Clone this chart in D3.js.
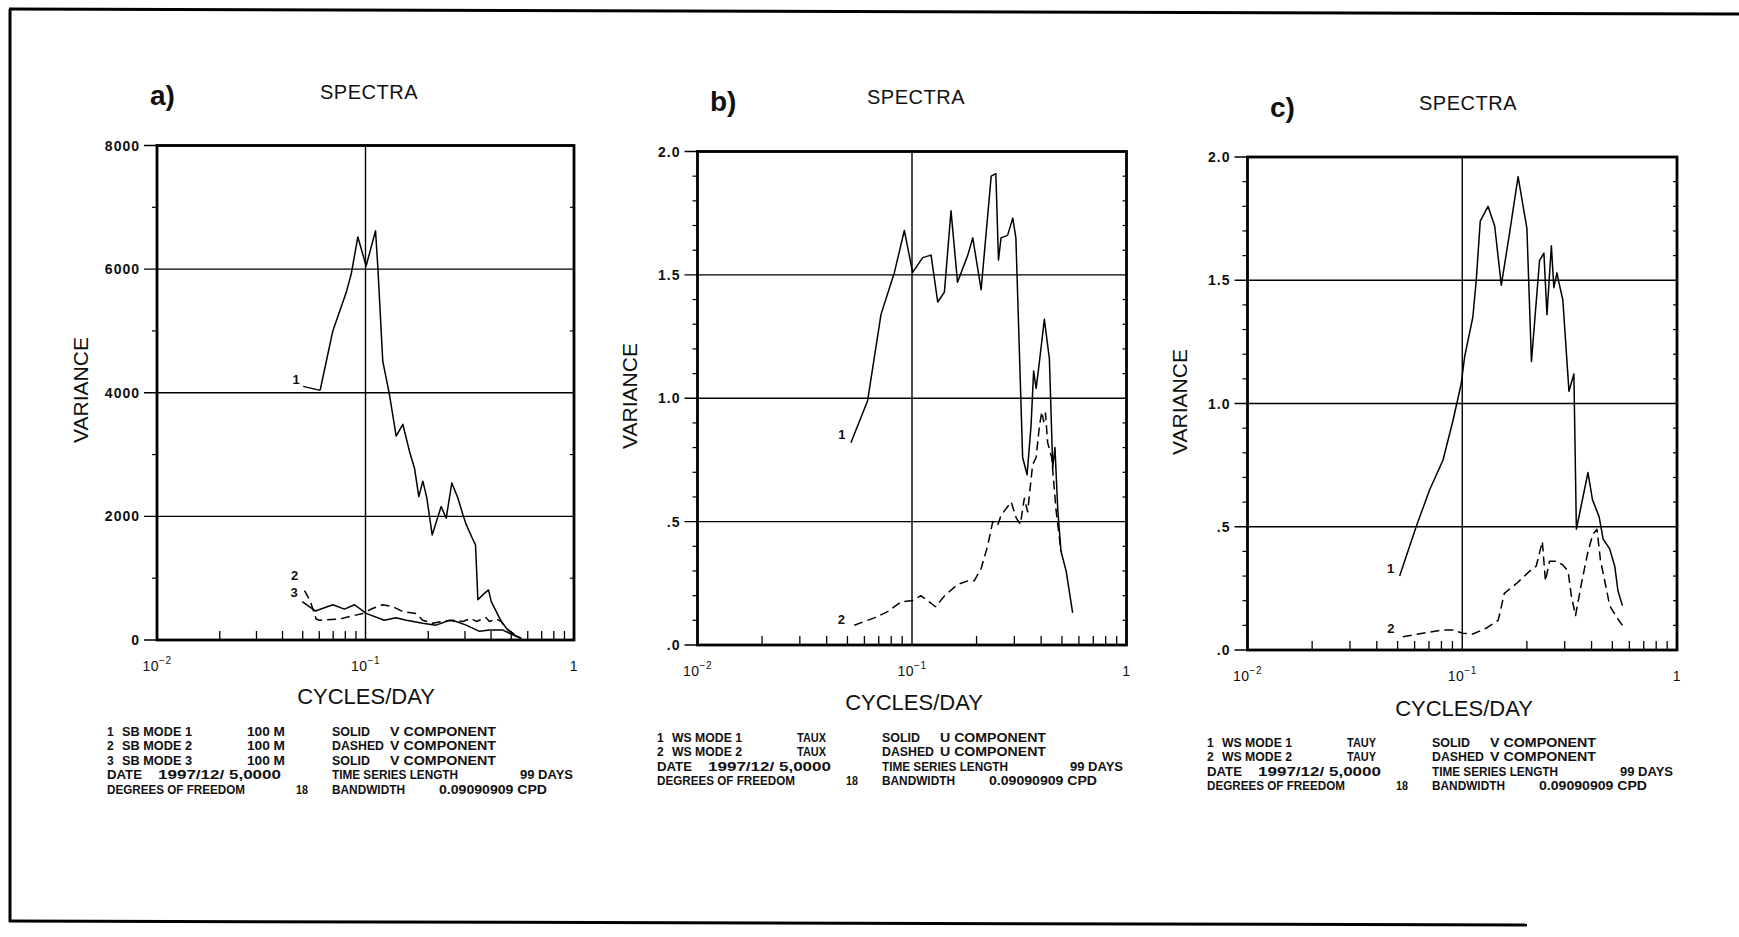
<!DOCTYPE html>
<html><head><meta charset="utf-8">
<script src="https://cdn.jsdelivr.net/npm/d3@7"></script>
<style>
body{margin:0;background:#fff}
text{fill:#111}
</style>
</head><body>
<svg id="chart" width="1739" height="937"></svg>
<script>
// ---------------- DATA ----------------
// frequency (cycles/day), variance
const aMode1 = [[0.0606,4040],[0.0697,5000],[0.0808,5620],[0.0854,5920],[0.0919,6520],[0.1007,6050],[0.1117,6620],[0.1146,6030],[0.121,4510],[0.1303,3970],[0.1403,3300],[0.151,3490],[0.1626,3050],[0.1718,2780],[0.1802,2320],[0.1884,2570],[0.1968,2300],[0.2088,1700],[0.2306,2160],[0.2438,1970],[0.2594,2540],[0.2772,2300],[0.2931,2030],[0.304,1870],[0.325,1650],[0.337,1540],[0.346,650],[0.365,730],[0.389,810],[0.401,620],[0.424,460],[0.448,300],[0.482,160],[0.519,80],[0.558,25]];
const aMode2 = [[0.051,800],[0.0543,630],[0.058,340],[0.0601,320],[0.075,340],[0.097,430],[0.108,510],[0.121,570],[0.135,540],[0.151,460],[0.175,430],[0.188,320],[0.21,270],[0.235,300],[0.262,320],[0.293,300],[0.321,350],[0.34,300],[0.379,360],[0.393,300],[0.424,340],[0.448,300],[0.473,190],[0.509,110],[0.558,25]];
const aMode3 = [[0.0497,620],[0.0575,470],[0.0697,570],[0.0793,500],[0.0886,570],[0.1007,430],[0.123,320],[0.14,360],[0.157,320],[0.188,270],[0.218,240],[0.253,320],[0.272,300],[0.304,240],[0.352,140],[0.393,160],[0.456,160],[0.491,110],[0.558,25]];

const bMode1 = [[0.0519,0.82],[0.0621,0.99],[0.0717,1.34],[0.0828,1.51],[0.0921,1.68],[0.1007,1.51],[0.1122,1.57],[0.1227,1.58],[0.1318,1.39],[0.1416,1.43],[0.152,1.76],[0.163,1.47],[0.182,1.58],[0.192,1.65],[0.21,1.44],[0.234,1.90],[0.246,1.91],[0.253,1.56],[0.26,1.65],[0.279,1.66],[0.295,1.73],[0.305,1.65],[0.328,0.76],[0.344,0.69],[0.359,0.89],[0.369,1.11],[0.379,1.04],[0.388,1.11],[0.414,1.32],[0.437,1.16],[0.453,0.72],[0.464,0.80],[0.478,0.55],[0.495,0.38],[0.523,0.30],[0.561,0.13]];
const bMode2 = [[0.0538,0.08],[0.0667,0.11],[0.077,0.135],[0.0889,0.175],[0.1007,0.18],[0.11,0.20],[0.118,0.18],[0.129,0.155],[0.142,0.20],[0.163,0.245],[0.182,0.26],[0.195,0.26],[0.21,0.31],[0.225,0.40],[0.238,0.50],[0.251,0.485],[0.26,0.525],[0.29,0.58],[0.306,0.515],[0.32,0.49],[0.334,0.595],[0.346,0.54],[0.365,0.73],[0.379,0.76],[0.393,0.89],[0.403,0.945],[0.411,0.905],[0.419,0.94],[0.429,0.82],[0.448,0.76],[0.469,0.55],[0.495,0.38]];

const cMode1 = [[0.0511,0.30],[0.061,0.50],[0.0705,0.65],[0.0813,0.77],[0.0905,0.93],[0.0989,1.08],[0.1026,1.19],[0.112,1.35],[0.1162,1.50],[0.1213,1.74],[0.1318,1.80],[0.1416,1.72],[0.152,1.48],[0.166,1.69],[0.182,1.92],[0.200,1.71],[0.210,1.17],[0.229,1.58],[0.240,1.61],[0.248,1.36],[0.260,1.64],[0.267,1.47],[0.276,1.53],[0.282,1.49],[0.294,1.42],[0.314,1.05],[0.331,1.12],[0.340,0.49],[0.355,0.57],[0.385,0.72],[0.404,0.61],[0.434,0.54],[0.453,0.45],[0.486,0.41],[0.513,0.34],[0.531,0.24],[0.557,0.18]];
const cMode2 = [[0.0529,0.054],[0.0655,0.068],[0.0813,0.081],[0.0905,0.081],[0.1007,0.068],[0.112,0.065],[0.129,0.088],[0.147,0.12],[0.157,0.23],[0.179,0.27],[0.206,0.32],[0.221,0.34],[0.236,0.44],[0.244,0.28],[0.255,0.36],[0.274,0.36],[0.294,0.345],[0.311,0.32],[0.322,0.22],[0.337,0.14],[0.359,0.27],[0.385,0.40],[0.406,0.47],[0.424,0.49],[0.44,0.365],[0.461,0.28],[0.486,0.18],[0.522,0.135],[0.557,0.10]];

// tick values / labels
const aYTicks = [0, 2000, 4000, 6000, 8000];
const aYTickLabels = ["0", "2000", "4000", "6000", "8000"];
const aYMinor = [1000, 3000, 5000, 7000];
const bcYTicks = [0, 0.5, 1.0, 1.5, 2.0];
const bcYTickLabels = [".0", ".5", "1.0", "1.5", "2.0"];
const bcYMinor = [0.1,0.2,0.3,0.4,0.6,0.7,0.8,0.9,1.1,1.2,1.3,1.4,1.6,1.7,1.8,1.9];
const xMajorTicks = [0.01, 0.1, 1];
const xMajorBase = ["10", "10", "1"];
const xMajorExp = ["\u22122", "\u22121", ""];
const xMinorTicks = [0.02,0.03,0.04,0.05,0.06,0.07,0.08,0.09,0.2,0.3,0.4,0.5,0.6,0.7,0.8,0.9];

// texts
const panelLetters = ["a)", "b)", "c)"];
const panelTitle = "SPECTRA";
const xTitle = "CYCLES/DAY";
const yTitle = "VARIANCE";

const aLegendModes = [["1","SB MODE 1","100 M","SOLID","V COMPONENT"],["2","SB MODE 2","100 M","DASHED","V COMPONENT"],["3","SB MODE 3","100 M","SOLID","V COMPONENT"]];
const bLegendModes = [["1","WS MODE 1","TAUX","SOLID","U COMPONENT"],["2","WS MODE 2","TAUX","DASHED","U COMPONENT"]];
const cLegendModes = [["1","WS MODE 1","TAUY","SOLID","V COMPONENT"],["2","WS MODE 2","TAUY","DASHED","V COMPONENT"]];
const legendDateRow = ["DATE","1997/12/ 5,0000","TIME SERIES LENGTH","99 DAYS"];
const legendDofRow = ["DEGREES OF FREEDOM","18","BANDWIDTH","0.09090909 CPD"];

// ---------------- LAYOUT ----------------
const svg = d3.select("#chart");
const FONT = "'Liberation Sans', Arial, Helvetica, sans-serif";

// rendered widths of the plotter-font legend strings (layout only)
const legendWidths = {"SB MODE 1":70,"SB MODE 2":70,"SB MODE 3":70,"WS MODE 1":70,"WS MODE 2":70,
  "100 M":38,"TAUX":29,"TAUY":29,"SOLID":38,"DASHED":52,"V COMPONENT":106,"U COMPONENT":106,
  "DATE":35,"1997/12/ 5,0000":123,"TIME SERIES LENGTH":126,"99 DAYS":53,
  "DEGREES OF FREEDOM":138,"18":12,"BANDWIDTH":73,"0.09090909 CPD":108};

// page frame (scanned page border)
svg.append("line").attr("x1",10).attr("y1",9).attr("x2",10).attr("y2",922).attr("stroke","#000").attr("stroke-width",3);
svg.append("line").attr("x1",9).attr("y1",9).attr("x2",1739).attr("y2",14).attr("stroke","#000").attr("stroke-width",3);
svg.append("line").attr("x1",9).attr("y1",921).attr("x2",1527).attr("y2",925).attr("stroke","#000").attr("stroke-width",3);

const panels = [
  {letter:panelLetters[0], x0:157, x1:574, yB:640, yT:145.5, yMax:8000,
   yTicks:aYTicks, yLabels:aYTickLabels, yMinor:aYMinor,
   letterPos:[150,105], titlePos:[369,99], xTitlePos:[366,704], yTitlePos:[80,390],
   series:[{d:aMode1,dash:null,lab:"1",off:[-24,-11],leader:true},
           {d:aMode2,dash:"9,5",lab:"2",off:[-10,-15]},
           {d:aMode3,dash:null,lab:"3",off:[-8,-9]}],
   legend:{x:107, y:736, modes:aLegendModes}},
  {letter:panelLetters[1], x0:697.5, x1:1126.5, yB:645, yT:151.5, yMax:2,
   yTicks:bcYTicks, yLabels:bcYTickLabels, yMinor:bcYMinor,
   letterPos:[710,111], titlePos:[916,104], xTitlePos:[914,710], yTitlePos:[629,396],
   series:[{d:bMode1,dash:null,lab:"1",off:[-9,-8]},
           {d:bMode2,dash:"9,5",lab:"2",off:[-13,-6]}],
   legend:{x:657, y:742, modes:bLegendModes}},
  {letter:panelLetters[2], x0:1247.5, x1:1677, yB:650, yT:157, yMax:2,
   yTicks:bcYTicks, yLabels:bcYTickLabels, yMinor:bcYMinor,
   letterPos:[1270,117], titlePos:[1468,110], xTitlePos:[1464,716], yTitlePos:[1179,402],
   series:[{d:cMode1,dash:null,lab:"1",off:[-9,-8]},
           {d:cMode2,dash:"9,5",lab:"2",off:[-12,-8]}],
   legend:{x:1207, y:747, modes:cLegendModes}}
];

function legendText(sel, x, y, t) {
  const el = sel.append("text").attr("x", x).attr("y", y).text(t);
  if (legendWidths[t]) el.attr("textLength", legendWidths[t]).attr("lengthAdjust", "spacingAndGlyphs");
  return el;
}

panels.forEach(p => {
  const g = svg.append("g");
  const x = d3.scaleLog().domain([0.01, 1]).range([p.x0, p.x1]);
  const y = d3.scaleLinear().domain([0, p.yMax]).range([p.yB, p.yT]);

  // horizontal gridlines + outward major ticks
  g.selectAll(".hg").data(p.yTicks).join("line")
    .attr("x1", p.x0 - 13).attr("x2", p.x1)
    .attr("y1", d => y(d)).attr("y2", d => y(d))
    .attr("stroke", "#000").attr("stroke-width", 1.3);
  // minor y ticks
  g.selectAll(".ym").data(p.yMinor).join("line")
    .attr("x1", p.x0 - 5).attr("x2", p.x0)
    .attr("y1", d => y(d)).attr("y2", d => y(d))
    .attr("stroke", "#000").attr("stroke-width", 1.2);
  g.selectAll(".ymr").data(p.yMinor).join("line")
    .attr("x1", p.x1 - 4).attr("x2", p.x1)
    .attr("y1", d => y(d)).attr("y2", d => y(d))
    .attr("stroke", "#000").attr("stroke-width", 1.2);
  // vertical gridline at 10^-1
  g.append("line").attr("x1", x(0.1)).attr("x2", x(0.1))
    .attr("y1", p.yT).attr("y2", p.yB).attr("stroke", "#000").attr("stroke-width", 1.4);
  // minor x ticks (inward)
  g.selectAll(".xm").data(xMinorTicks).join("line")
    .attr("x1", d => x(d)).attr("x2", d => x(d))
    .attr("y1", p.yB).attr("y2", p.yB - 9)
    .attr("stroke", "#000").attr("stroke-width", 1.3);
  // frame
  g.append("rect").attr("x", p.x0).attr("y", p.yT)
    .attr("width", p.x1 - p.x0).attr("height", p.yB - p.yT)
    .attr("fill", "none").attr("stroke", "#000").attr("stroke-width", 2.8);

  // y tick labels
  g.selectAll(".yl").data(p.yTicks).join("text")
    .attr("x", p.x0 - 17).attr("y", d => y(d)).attr("dy", "0.36em")
    .attr("text-anchor", "end")
    .attr("font-family", FONT).attr("font-weight", "bold").attr("font-size", 14)
    .attr("letter-spacing", 1)
    .text((d, i) => p.yLabels[i]);

  // x tick labels
  xMajorTicks.forEach((t, i) => {
    const tx = g.append("text").attr("x", x(t)).attr("y", p.yB + 31)
      .attr("text-anchor", "middle")
      .attr("font-family", FONT).attr("font-size", 14).attr("letter-spacing", 0.5);
    tx.append("tspan").text(xMajorBase[i]);
    if (xMajorExp[i]) tx.append("tspan").attr("dy", -7).attr("font-size", 10).text(xMajorExp[i]);
  });

  // titles
  g.append("text").attr("x", p.letterPos[0]).attr("y", p.letterPos[1])
    .attr("font-family", FONT).attr("font-weight", "bold").attr("font-size", 28)
    .text(p.letter);
  g.append("text").attr("x", p.titlePos[0]).attr("y", p.titlePos[1])
    .attr("text-anchor", "middle").attr("font-family", FONT).attr("font-size", 20)
    .attr("letter-spacing", 0.5).text(panelTitle);
  g.append("text").attr("x", p.xTitlePos[0]).attr("y", p.xTitlePos[1])
    .attr("text-anchor", "middle").attr("font-family", FONT).attr("font-size", 22)
    .text(xTitle);
  g.append("text").attr("transform", `translate(${p.yTitlePos[0]},${p.yTitlePos[1]}) rotate(-90)`)
    .attr("text-anchor", "middle").attr("dy", "0.36em")
    .attr("font-family", FONT).attr("font-size", 21).text(yTitle);

  // series
  const line = d3.line().x(d => x(d[0])).y(d => y(d[1]));
  p.series.forEach(s => {
    g.append("path").datum(s.d).attr("d", line)
      .attr("fill", "none").attr("stroke", "#000").attr("stroke-width", 1.5)
      .attr("stroke-linejoin", "round")
      .attr("stroke-dasharray", s.dash);
    const sx = x(s.d[0][0]), sy = y(s.d[0][1]);
    g.append("text").attr("x", sx + s.off[0]).attr("y", sy + s.off[1]).attr("dy", "0.36em")
      .attr("text-anchor", "middle").attr("font-family", FONT).attr("font-weight", "bold")
      .attr("font-size", 13).text(s.lab);
    if (s.leader) {
      g.append("line").attr("x1", sx - 17).attr("y1", sy - 4).attr("x2", sx).attr("y2", sy)
        .attr("stroke", "#000").attr("stroke-width", 1.3);
    }
  });

  // legend block
  const L = p.legend, rowH = 14.4;
  const lg = g.append("g").attr("font-family", FONT).attr("font-weight", "bold")
    .attr("font-size", 12);
  const modeOffsets = [0, 15, 140, 225, 283];
  L.modes.forEach((row, r) => {
    row.forEach((t, c) => legendText(lg, L.x + modeOffsets[c], L.y + r * rowH, t));
  });
  const nr = L.modes.length;
  const dateOffsets = [0, 51, 225, 413];
  legendDateRow.forEach((t, c) => legendText(lg, L.x + dateOffsets[c], L.y + nr * rowH, t));
  const dofOffsets = [0, 189, 225, 332];
  legendDofRow.forEach((t, c) => legendText(lg, L.x + dofOffsets[c], L.y + (nr + 1) * rowH, t));
});
</script>
</body></html>
